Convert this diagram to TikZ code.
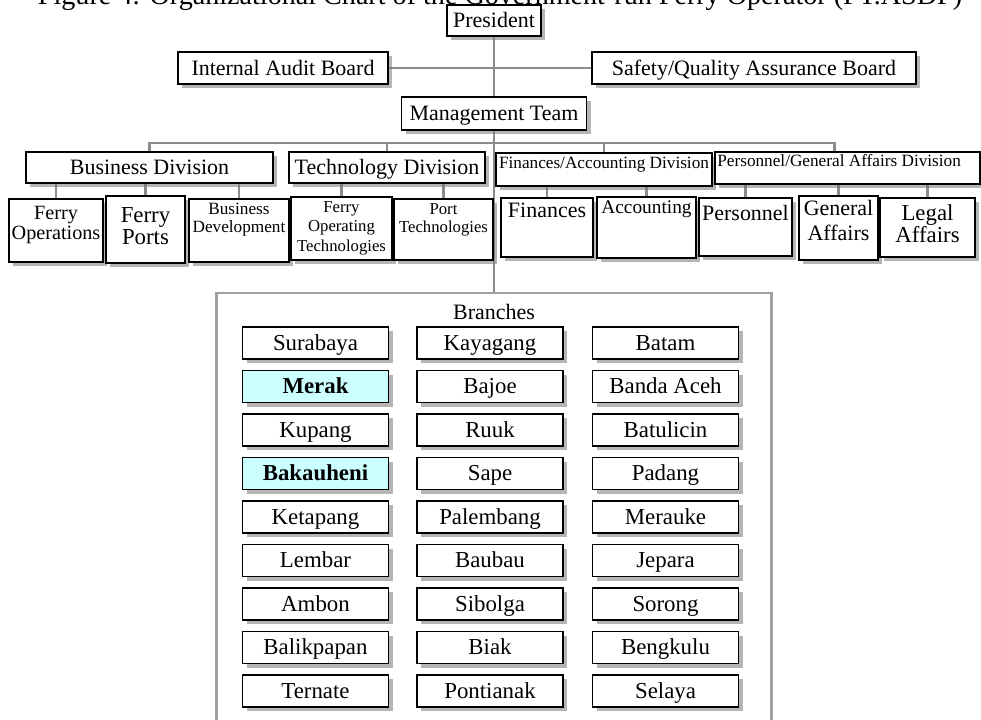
\documentclass[tikz,border=0pt]{standalone}
\usepackage{fontspec}
\setmainfont{Liberation Serif}
\usepackage{tikz}
\usetikzlibrary{positioning, shadows, backgrounds}
\definecolor{linkgray}{RGB}{140, 140, 140}
\definecolor{framegray}{RGB}{160, 160, 160}
\definecolor{shadegray}{RGB}{120, 120, 120}
\definecolor{portcyan}{RGB}{204, 255, 255}
\newcommand{\boxfont}[2]{\fontsize{#1}{#2}\selectfont}

\begin{document}
\begin{tikzpicture}[
  x=0.02cm, y=-0.02cm,
  box/.style={draw=black, line width=1pt, fill=white, inner sep=0pt,
    drop shadow={shadow xshift=2.5pt, shadow yshift=-2.5pt, fill=shadegray, opacity=0.55}},
  top/.style={box, font=\boxfont{12.5}{15}, text height=9pt, text depth=1pt},
  lbl/.style={inner sep=0pt, align=center},
  branch/.style={box, line width=1.1pt, minimum width=2.92cm, minimum height=0.64cm,
    text height=9.5pt, text depth=1pt},
  link/.style={draw=linkgray, line width=1.3pt},
]
  \useasboundingbox (0,0) rectangle (981,720);

  % Caption (cut at the top)
  \node[lbl, font=\boxfont{16}{18}, anchor=base] (title) at (500,5)
    {Figure 4: Organizational Chart of the Government-run Ferry Operator (PT.ASDP)};

  % Top management
  \node[top, minimum width=1.88cm, minimum height=0.62cm] (pres) at (494,20.5) {President};
  \node[top, minimum width=4.2cm, minimum height=0.64cm] (iab) at (283,68) {Internal Audit Board};
  \node[top, minimum width=6.48cm, minimum height=0.64cm] (sqab) at (754,68) {Safety/Quality Assurance Board};
  \node[top, minimum width=3.7cm, minimum height=0.66cm] (mgmt) at (494,113.5) {Management Team};

  % Divisions
  \node[top, minimum width=4.94cm, minimum height=0.62cm] (bdiv) at (149.5,167.5) {Business Division};
  \node[top, minimum width=3.92cm, minimum height=0.62cm] (tdiv) at (387,167.5) {Technology Division};
  \node[box, minimum width=4.32cm, minimum height=0.66cm] (fadiv) at (604,169.5) {};
  \node[lbl, font=\boxfont{9.8}{12}, anchor=base] (fadiv-t) at (604,168) {Finances/Accounting Division};
  \node[box, minimum width=5.3cm, minimum height=0.64cm] (pdiv) at (847.5,168) {};
  \node[lbl, font=\boxfont{9.8}{12}, anchor=base west] (pdiv-t) at (717,166) {Personnel/General Affairs Division};

  % Departments
  \node[box, minimum width=1.88cm, minimum height=1.26cm] (fops) at (56,230.5) {};
  \node[lbl, font=\boxfont{11.5}{11.3}, below=0.15cm of fops.north] (fops-t) {Ferry\\Operations};
  \node[box, minimum width=1.58cm, minimum height=1.34cm] (fports) at (145.5,229.5) {};
  \node[lbl, font=\boxfont{13}{12.5}, below=0.24cm of fports.north] (fports-t) {Ferry\\Ports};
  \node[box, minimum width=2.0cm, minimum height=1.26cm] (bdev) at (239,230.5) {};
  \node[lbl, font=\boxfont{9.8}{10.2}, below=0.09cm of bdev.north] (bdev-t) {Business\\Development};
  \node[box, minimum width=2.02cm, minimum height=1.26cm] (fotech) at (341.5,228.5) {};
  \node[lbl, font=\boxfont{9.5}{11}, below=0.1cm of fotech.north] (fotech-t) {Ferry\\Operating\\Technologies};
  \node[box, minimum width=1.98cm, minimum height=1.22cm] (ptech) at (443.5,229.5) {};
  \node[lbl, font=\boxfont{9.5}{10.2}, below=0.1cm of ptech.north] (ptech-t) {Port\\Technologies};
  \node[box, minimum width=1.84cm, minimum height=1.18cm] (fin) at (547,227.5) {};
  \node[lbl, font=\boxfont{12.5}{14}, below=0.11cm of fin.north] (fin-t) {Finances};
  \node[box, minimum width=1.98cm, minimum height=1.22cm] (acc) at (646.5,227.5) {};
  \node[lbl, font=\boxfont{11}{13}, below=0.08cm of acc.north] (acc-t) {Accounting};
  \node[box, minimum width=1.86cm, minimum height=1.16cm] (pers) at (745.5,227) {};
  \node[lbl, font=\boxfont{12.5}{14}, below=0.15cm of pers.north] (pers-t) {Personnel};
  \node[box, minimum width=1.58cm, minimum height=1.28cm] (gaff) at (838.5,228) {};
  \node[lbl, font=\boxfont{12.5}{14.2}, below=0.09cm of gaff.north] (gaff-t) {General\\Affairs};
  \node[box, minimum width=1.9cm, minimum height=1.18cm] (laff) at (927.5,227.5) {};
  \node[lbl, font=\boxfont{13}{12.5}, below=0.14cm of laff.north] (laff-t) {Legal\\Affairs};

  % Branches
  \node[draw=framegray, line width=1.6pt, minimum width=11.1cm, minimum height=8.84cm] (branches) at (494,514) {};
  \node[lbl, font=\boxfont{12.5}{15}, below=0.24cm of branches.north] (branches-t) {Branches};

  \foreach \name/\fillc/\wt [count=\i from 0] in {Surabaya/white/\mdseries, Merak/portcyan/\bfseries,
      Kupang/white/\mdseries, Bakauheni/portcyan/\bfseries, Ketapang/white/\mdseries,
      Lembar/white/\mdseries, Ambon/white/\mdseries, Balikpapan/white/\mdseries, Ternate/white/\mdseries}
    \node[branch, fill=\fillc, font=\boxfont{13}{15}\wt] (br-a-\i) at (315.5,{343+43.5*\i}) {\name};
  \foreach \name [count=\i from 0] in {Kayagang, Bajoe, Ruuk, Sape, Palembang, Baubau, Sibolga, Biak, Pontianak}
    \node[branch, font=\boxfont{13}{15}] (br-b-\i) at (490,{343+43.5*\i}) {\name};
  \foreach \name [count=\i from 0] in {Batam, Banda Aceh, Batulicin, Padang, Merauke, Jepara, Sorong, Bengkulu, Selaya}
    \node[branch, font=\boxfont{13}{15}] (br-c-\i) at (665.5,{343+43.5*\i}) {\name};

  % Connectors
  \begin{scope}[on background layer]
    \draw[link] (pres.south) -- (mgmt.north);
    \draw[link] (iab.east) -- (sqab.west);
    \draw[link] (mgmt.south) -- (branches.north);
    \coordinate (bus) at (0,143);
    \coordinate (pfeed) at ([xshift=-0.26cm]pdiv.north);
    \draw[link] (bdiv.north) |- (bus -| pfeed) -- (pfeed);
    \draw[link] (tdiv.north) -- (tdiv.north |- bus);
    \draw[link] (fadiv.north) -- (fadiv.north |- bus);
    \foreach \u/\d in {fops/bdiv, fports/bdiv, bdev/bdiv, fotech/tdiv, ptech/tdiv,
        fin/fadiv, acc/fadiv, pers/pdiv, gaff/pdiv, laff/pdiv}
      \draw[link] (\u.north) -- (\u.north |- \d.south);
  \end{scope}
\end{tikzpicture}
\end{document}
